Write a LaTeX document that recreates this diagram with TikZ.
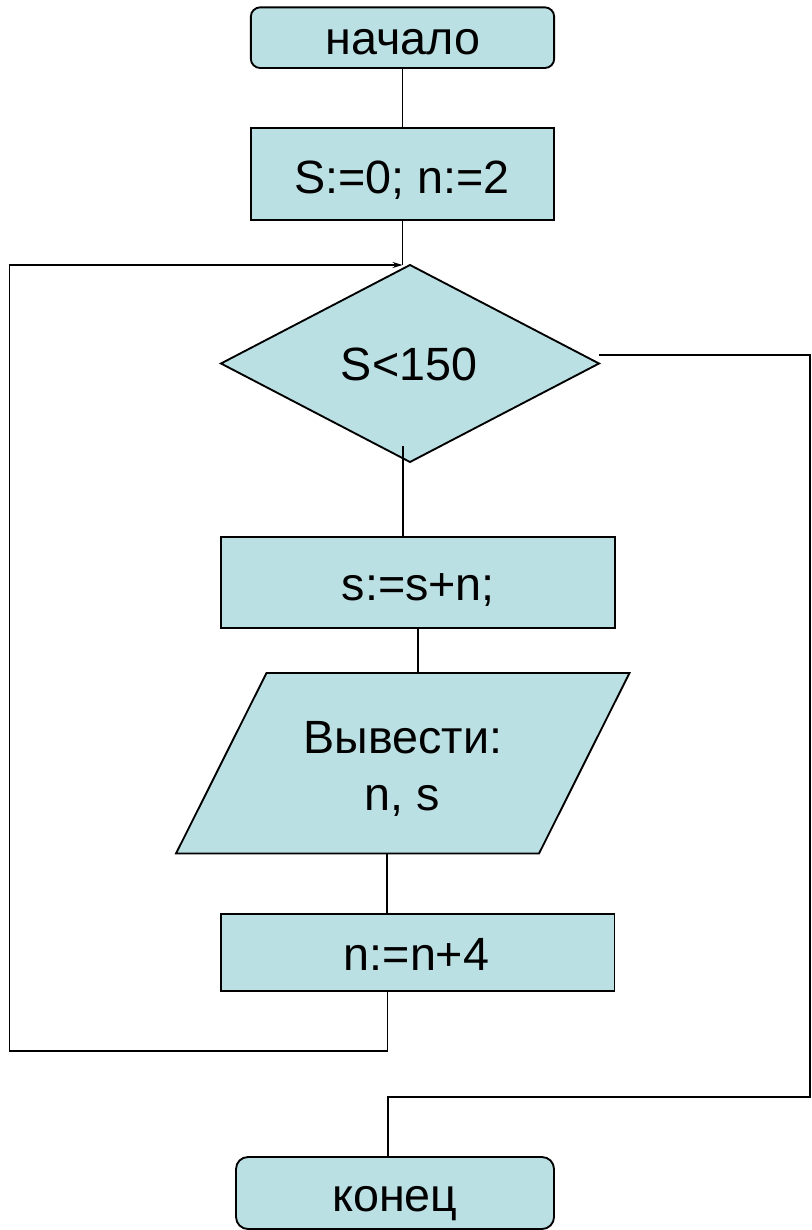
\documentclass[tikz,border=0pt]{standalone}
\usepackage{fontspec}
\setmainfont{Liberation Sans}
\usetikzlibrary{shapes.geometric,arrows.meta,calc}
\definecolor{boxfill}{RGB}{187,224,227}
\begin{document}
\begin{tikzpicture}[x=0.75pt,y=-0.75pt,
  shp/.style={draw=black,fill=boxfill,line width=1.4pt,inner sep=0pt,outer sep=0pt},
  term/.style={shp,rectangle,rounded corners=7pt},
  proc/.style={shp,rectangle},
  dec/.style={shp,diamond},
  lbl/.style={font=\fontsize{35}{42}\selectfont,anchor=base,inner sep=0pt},
  conn/.style={line width=1.2pt,draw=black}]
\useasboundingbox (0,0) rectangle (811,1230);

% shapes
\node[term,minimum width=227.5pt,minimum height=45.5pt] (start) at (402.5,37.7) {};
\node[proc,minimum width=227.5pt,minimum height=69pt] (init) at (402.5,174) {};
\node[dec,minimum width=283.5pt,minimum height=147.75pt] (cond) at (410,363.5) {};
\node[proc,minimum width=295.7pt,minimum height=68.25pt] (sum) at (417.8,582.2) {};
\node[inner sep=0pt,outer sep=0pt,minimum width=340.1pt,minimum height=135.4pt] (out) at (402.75,763.25) {};
\path[shp] (out.south west) -- ++(363,0) -- (out.north east) -- ++(-363,0) -- cycle;
\node[proc,minimum width=295.1pt,minimum height=57.75pt] (n4) at (417.7,952.5) {};
\node[term,rounded corners=9pt,minimum width=238.5pt,minimum height=54pt] (end) at (395,1193) {};

% labels
\node[lbl] (tstart) at (403,55) {начало};
\node[lbl] (tinit) at (401.7,194) {S:=0; n:=2};
\node[lbl] (tcond) at (409,380) {S<150};
\node[lbl] (tsum) at (418.3,600) {s:=s+n;};
\node[lbl] (tout1) at (403,753.3) {Вывести:};
\node[lbl] (tout2) at (402.5,810) {n, s};
\node[lbl] (tn4) at (416.5,970) {n:=n+4};
\node[lbl] (tend) at (395,1211.7) {конец};

% helper coordinates
\coordinate (j) at (402.5,265);
\coordinate (lb) at (9.3,1051);
\coordinate (dfrom) at ($(cond.south)+(-7.3,-16)$);
\coordinate (sfrom) at ($(out.south)+(-15.5,0)$);
\coordinate (lfrom) at ($(n4.south)+(-30.2,0)$);
\coordinate (ea) at ($(cond.east)+(0,-8.5)$);
\coordinate (rb) at (810,1097);
\coordinate (eto) at ($(end.north)+(-7.3,0)$);

% connectors
\draw[conn] (start.south) -- (start.south |- init.north);
\draw[conn] (init.south) -- (j);
\draw[conn] (dfrom) -- (dfrom |- sum.north);
\draw[conn] (sum.south) -- (sum.south |- out.north);
\draw[conn] (sfrom) -- (sfrom |- n4.north);
\draw[conn,-{Stealth[length=7.5pt,width=4.5pt]}] (lfrom) |- (lb) |- (j);
\draw[conn] (ea) -| (rb) -| (eto);
\end{tikzpicture}
\end{document}
